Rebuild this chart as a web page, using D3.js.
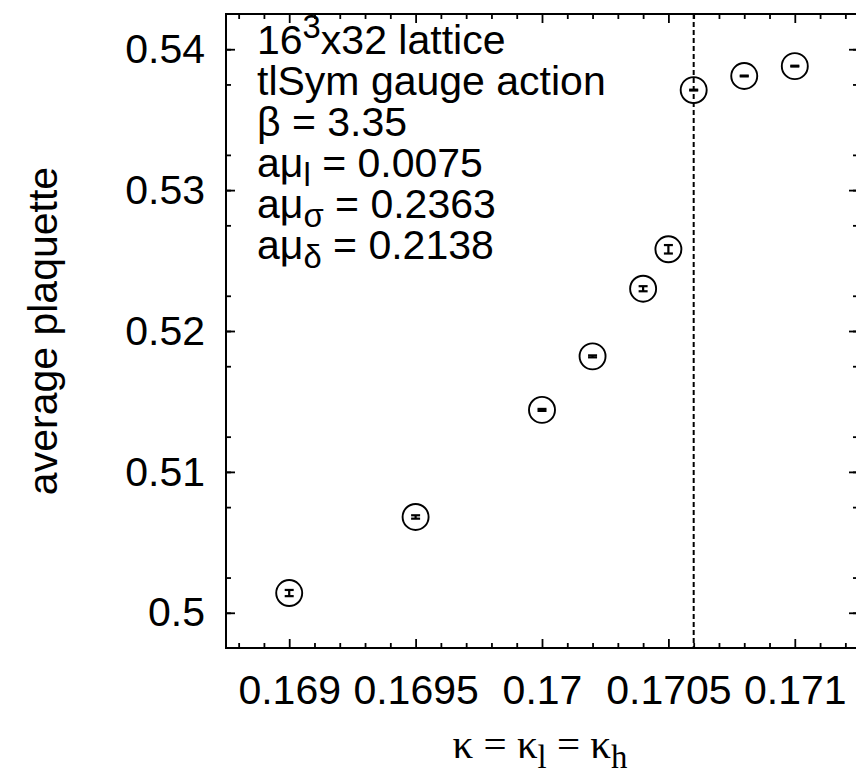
<!DOCTYPE html>
<html>
<head>
<meta charset="utf-8">
<script src="https://cdn.jsdelivr.net/npm/d3@7"></script>
<style>
  body { margin: 0; background: #fff; }
  text { font-family: "Liberation Sans", Arial, sans-serif; fill: #000; }
</style>
</head>
<body>
<div id="chart"></div>
<script>
// data
const kappa = [0.169, 0.1695, 0.17, 0.1702, 0.1704, 0.1705, 0.1706, 0.1708, 0.171];
const plaquette = [0.5014, 0.5068, 0.5144, 0.5182, 0.5230, 0.5258, 0.5371, 0.5381, 0.5388];
const plaqErr = [0.00022, 0.00012, 0.00007, 0.00007, 0.00018, 0.0003, 0.00003, 0.00003, 0.00003];
const kappaCrit = 0.1706;

const xTicks = [0.169, 0.1695, 0.17, 0.1705, 0.171];
const xTickLabels = ["0.169", "0.1695", "0.17", "0.1705", "0.171"];
const yTicks = [0.5, 0.51, 0.52, 0.53, 0.54];
const yTickLabels = ["0.5", "0.51", "0.52", "0.53", "0.54"];

// key text, pieces: [text, shift] where shift is "sup" / "sub" / ""
const infoLines = [
  [["16", ""], ["3", "sup"], ["x32 lattice", ""]],
  [["tlSym gauge action", ""]],
  [["\u03b2 = 3.35", ""]],
  [["a\u03bc", ""], ["l", "sub"], [" = 0.0075", ""]],
  [["a\u03bc", ""], ["\u03c3", "sub"], [" = 0.2363", ""]],
  [["a\u03bc", ""], ["\u03b4", "sub"], [" = 0.2138", ""]]
];

const width = 856, height = 776;
const pLeft = 226, pRight = 858, pTop = 14, pBottom = 648;
const fs = 41;

const svg = d3.select("#chart").append("svg")
  .attr("width", width)
  .attr("height", height);

const x = d3.scaleLinear().domain([0.16875, 0.17125]).range([pLeft, pRight]);
const y = d3.scaleLinear().domain([0.4975, 0.5425]).range([pBottom, pTop]);

const xMinorTicks = d3.range(1688, 1713).filter(v => v % 5 != 0).map(v => v / 10000);
const yMinorTicks = d3.range(1, 18).filter(i => (i + 1) % 4 != 0).map(i => 0.4975 + i * 0.0025);

function styleAxis(g) {
  g.select(".domain").remove();
  g.selectAll(".tick line").attr("stroke", "#000").attr("stroke-width", 1.8);
  g.selectAll(".tick text").attr("font-size", fs).attr("font-family", "Liberation Sans, Arial, sans-serif");
}

// bottom
svg.append("g").attr("transform", `translate(0,${pBottom})`)
  .call(d3.axisBottom(x).tickValues(xTicks).tickFormat((d, i) => xTickLabels[i])
    .tickSizeInner(-9).tickSizeOuter(0).tickPadding(27))
  .call(styleAxis);
svg.append("g").attr("transform", `translate(0,${pBottom})`)
  .call(d3.axisBottom(x).tickValues(xMinorTicks).tickFormat("").tickSizeInner(-5).tickSizeOuter(0))
  .call(styleAxis);
// top
svg.append("g").attr("transform", `translate(0,${pTop})`)
  .call(d3.axisTop(x).tickValues(xTicks).tickFormat("").tickSizeInner(-9).tickSizeOuter(0))
  .call(styleAxis);
svg.append("g").attr("transform", `translate(0,${pTop})`)
  .call(d3.axisTop(x).tickValues(xMinorTicks).tickFormat("").tickSizeInner(-5).tickSizeOuter(0))
  .call(styleAxis);
// left
svg.append("g").attr("transform", `translate(${pLeft},0)`)
  .call(d3.axisLeft(y).tickValues(yTicks).tickFormat((d, i) => yTickLabels[i])
    .tickSizeInner(-9).tickSizeOuter(0).tickPadding(21))
  .call(styleAxis);
svg.append("g").attr("transform", `translate(${pLeft},0)`)
  .call(d3.axisLeft(y).tickValues(yMinorTicks).tickFormat("").tickSizeInner(-5).tickSizeOuter(0))
  .call(styleAxis);
// right
svg.append("g").attr("transform", `translate(${pRight},0)`)
  .call(d3.axisRight(y).tickValues(yTicks).tickFormat("").tickSizeInner(-9).tickSizeOuter(0))
  .call(styleAxis);
svg.append("g").attr("transform", `translate(${pRight},0)`)
  .call(d3.axisRight(y).tickValues(yMinorTicks).tickFormat("").tickSizeInner(-5).tickSizeOuter(0))
  .call(styleAxis);

// frame
svg.append("rect")
  .attr("x", pLeft).attr("y", pTop)
  .attr("width", pRight - pLeft).attr("height", pBottom - pTop)
  .attr("fill", "none").attr("stroke", "#000").attr("stroke-width", 2);

// critical kappa line
svg.append("line")
  .attr("x1", x(kappaCrit)).attr("x2", x(kappaCrit))
  .attr("y1", pTop).attr("y2", pBottom)
  .attr("stroke", "#000").attr("stroke-width", 2)
  .attr("stroke-dasharray", "5,3");

// points
const pts = kappa.map((k, i) => ({k: k, p: plaquette[i], e: plaqErr[i]}));

svg.append("g").selectAll("circle")
  .data(pts)
  .enter().append("circle")
  .attr("cx", d => x(d.k))
  .attr("cy", d => y(d.p))
  .attr("r", 13)
  .attr("fill", "none")
  .attr("stroke", "#000")
  .attr("stroke-width", 1.9);

const err = svg.append("g").attr("stroke", "#000").attr("stroke-width", 2.2);
pts.forEach(d => {
  const cx = x(d.k), y0 = y(d.p - d.e), y1 = y(d.p + d.e);
  err.append("line").attr("x1", cx).attr("x2", cx).attr("y1", y0).attr("y2", y1);
  err.append("line").attr("x1", cx - 4.5).attr("x2", cx + 4.5).attr("y1", y0).attr("y2", y0);
  err.append("line").attr("x1", cx - 4.5).attr("x2", cx + 4.5).attr("y1", y1).attr("y2", y1);
});

// info text
const info = svg.append("text").attr("font-size", fs);
infoLines.forEach((line, li) => {
  line.forEach((seg, si) => {
    const ts = info.append("tspan").text(seg[0]);
    if (si === 0) ts.attr("x", 257).attr("y", 54 + li * 41);
    if (seg[1] === "sup") ts.attr("font-size", fs * 0.8).attr("dy", -16);
    if (seg[1] === "sub") ts.attr("font-size", fs * 0.8).attr("dy", 9);
    // undo shift on next segment
    const prev = line[si - 1];
    if (prev && prev[1] === "sup") ts.attr("dy", 16);
    if (prev && prev[1] === "sub") ts.attr("dy", -9);
  });
});

// axis labels
svg.append("text")
  .attr("transform", `translate(57,${(pTop + pBottom) / 2}) rotate(-90)`)
  .attr("text-anchor", "middle")
  .attr("font-size", fs)
  .text("average plaquette");

const xl = svg.append("text")
  .attr("x", (pLeft + pRight) / 2 - 2)
  .attr("y", 758)
  .attr("text-anchor", "middle")
  .attr("font-size", fs)
  .style("font-family", "Liberation Serif, Times New Roman, serif");
xl.append("tspan").text("\u03ba = \u03ba");
xl.append("tspan").text("l").attr("font-size", fs * 0.8).attr("dy", 10);
xl.append("tspan").text(" = \u03ba").attr("dy", -10);
xl.append("tspan").text("h").attr("font-size", fs * 0.8).attr("dy", 10);
</script>
</body>
</html>
